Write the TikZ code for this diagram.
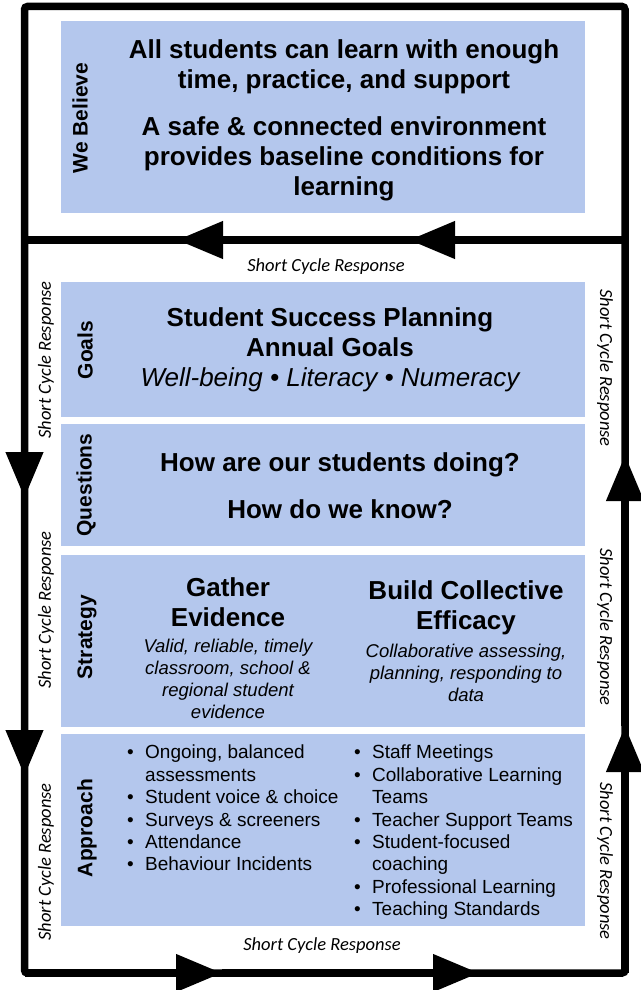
\documentclass[tikz,border=0pt]{standalone}
\usepackage{fontspec}
\setmainfont{Liberation Sans}
\newfontfamily\cyclefont{Carlito}
\usetikzlibrary{arrows.meta}
\definecolor{panelblue}{RGB}{180,199,237}
\newcommand{\itemdot}{\makebox[18pt][l]{\textbullet}}
\newcommand{\itemgap}{\hspace*{18pt}}

\begin{document}
\begin{tikzpicture}[x=1pt, y=-1pt,
  panel/.style = {fill=panelblue, minimum width=524pt, inner sep=0pt},
  sidetag/.style = {rotate=90, font=\fontsize{21}{24}\selectfont\bfseries},
  heading/.style = {font=\fontsize{26}{30}\selectfont\bfseries, align=center},
  note/.style = {font=\fontsize{18.5}{22}\selectfont\itshape, align=center},
  items/.style = {font=\fontsize{19}{22.4}\selectfont, align=left, anchor=north west, inner sep=0pt},
  cyc/.style = {font=\fontsize{18.5}{20}\selectfont\cyclefont\itshape},
  loopline/.style = {line width=7.5pt},
  flow/.style = {line width=7.5pt, -{Triangle[length=46pt,width=36pt]}}]
\useasboundingbox (0,0) rectangle (640,990);

\node[panel, minimum height=192pt] (believe) at (323,117) {};
\node[panel, minimum height=135pt] (goals) at (323,349.5) {};
\node[panel, minimum height=122pt] (questions) at (323,485) {};
\node[panel, minimum height=172pt] (strategy) at (323,641) {};
\node[panel, minimum height=192pt] (approach) at (323,830) {};

\node[sidetag] (webelieve) at (80,118) {We Believe};
\node[sidetag] (goalstag) at (85,350) {Goals};
\node[sidetag] (questionstag) at (86,485) {Questions};
\node[sidetag] (strategytag) at (87,637) {Strategy};
\node[sidetag] (approachtag) at (87,828) {Approach};

\node[heading] (belief) at (344,120) {All students can learn with enough\\time, practice, and support\\[17pt]A safe \& connected environment\\provides baseline conditions for\\learning};
\node[heading] (plan) at (330,350) {Student Success Planning\\Annual Goals\\{\mdseries\itshape Well-being • Literacy • Numeracy}};
\node[heading] (ask) at (340,486) {How are our students doing?\\[17pt]How do we know?};

\node[heading] (gather) at (228,602) {Gather\\Evidence};
\node[note] (gathernote) at (228,679) {Valid, reliable, timely\\classroom, school \&\\regional student\\evidence};
\node[heading] (build) at (466,608) {Build Collective\\Efficacy};
\node[note] (buildnote) at (466,673) {Collaborative assessing,\\planning, responding to\\data};

\node[items] (evidence) at (127,745) {\itemdot Ongoing, balanced\\\itemgap assessments\\\itemdot Student voice \& choice\\\itemdot Surveys \& screeners\\\itemdot Attendance\\\itemdot Behaviour Incidents};
\node[items] (efficacy) at (354,745) {\itemdot Staff Meetings\\\itemdot Collaborative Learning\\\itemgap Teams\\\itemdot Teacher Support Teams\\\itemdot Student-focused\\\itemgap coaching\\\itemdot Professional Learning\\\itemdot Teaching Standards};

\node[cyc] (cycletop) at (326,267) {Short Cycle Response};
\node[cyc] (cyclebottom) at (322,946) {Short Cycle Response};
\node[cyc, rotate=90] (cycleleft1) at (46,360) {Short Cycle Response};
\node[cyc, rotate=90] (cycleleft2) at (46,610) {Short Cycle Response};
\node[cyc, rotate=90] (cycleleft3) at (46,862) {Short Cycle Response};
\node[cyc, rotate=-90] (cycleright1) at (605,368) {Short Cycle Response};
\node[cyc, rotate=-90] (cycleright2) at (605,627) {Short Cycle Response};
\node[cyc, rotate=-90] (cycleright3) at (605,861) {Short Cycle Response};

\coordinate (tl) at (24.5,6.5);
\coordinate (bl) at (24.5,973);
\coordinate (br) at (625,973);
\coordinate (ml) at (24.5,240);
\coordinate (mr) at (625,240);
\coordinate (top1) at (177,240);
\coordinate (top2) at (409,240);
\coordinate (left1) at (24.5,498);
\coordinate (left2) at (24.5,776);
\coordinate (bottom1) at (222,973);
\coordinate (bottom2) at (479,973);
\coordinate (right1) at (625,726);
\coordinate (right2) at (625,455);

\draw[loopline, rounded corners=3pt] (tl) rectangle (br);
\draw[loopline] (ml) -- (mr);
\draw[flow] (mr) -- (top2);
\draw[flow] (top2) -- (top1);
\draw[flow] (ml) -- (left1);
\draw[flow] (left1) -- (left2);
\draw[flow] (bl) -- (bottom1);
\draw[flow] (bottom1) -- (bottom2);
\draw[flow] (br) -- (right1);
\draw[flow] (right1) -- (right2);
\end{tikzpicture}
\end{document}
